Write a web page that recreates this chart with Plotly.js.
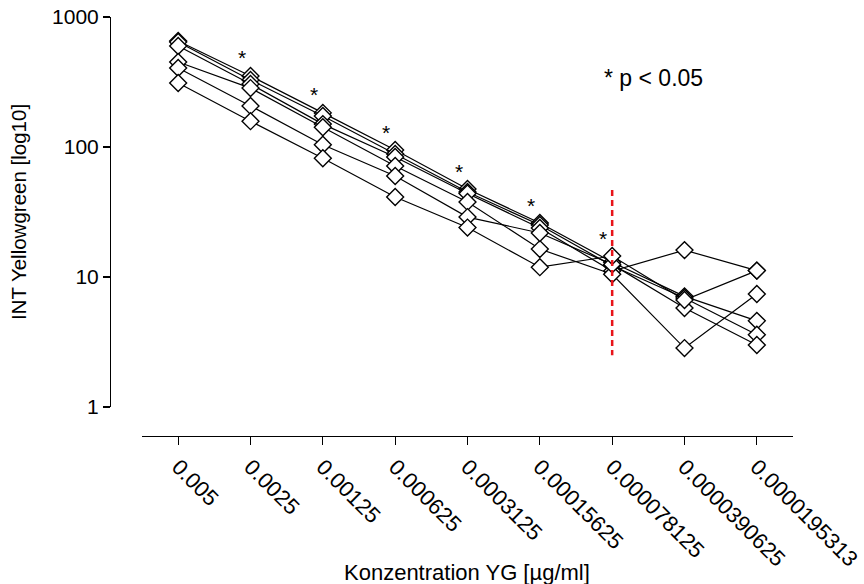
<!DOCTYPE html>
<html>
<head>
<meta charset="utf-8">
<script src="https://cdn.plot.ly/plotly-3.0.1.min.js"></script>
<style>html,body{margin:0;padding:0;background:#fff;}#chart{width:864px;height:584px;}</style>
</head>
<body>
<div id="chart"></div>
<script>
const concentrations = ["0.005","0.0025","0.00125","0.000625","0.0003125","0.00015625","0.000078125","0.0000390625","0.0000195313"];
const series1 = [653, 352, 183, 94.8, 47.5, 26.0, 13.0, 7.1, 4.6];
const series2 = [642, 328, 173, 88.3, 45.1, 25.1, 12.2, 6.9, 3.6];
const series3 = [598, 305, 150, 83.8, 43.9, 23.8, 11.1, 16.1, 11.2];
const series4 = [451, 284, 142, 71.4, 37.8, 16.4, 10.5, 2.84, 7.4];
const series5 = [405, 207, 104, 59.8, 28.9, 21.8, 12.5, 5.77, 3.0];
const series6 = [311, 158, 82, 41.2, 24.0, 11.9, 14.5, 6.65, 11.2];
const significant = ["0.0025","0.00125","0.000625","0.0003125","0.00015625","0.000078125"];
const cutoffConcentration = "0.000078125";
const cutoffRange = [46.7, 2.5];

const FONT = 'Liberation Sans, Arial, sans-serif';
const allSeries = [series1, series2, series3, series4, series5, series6];
const traces = allSeries.map((s, i) => ({
  x: concentrations, y: s, type: 'scatter', mode: 'lines+markers',
  name: 'Probe ' + (i + 1),
  line: {color: '#000', width: 1.2},
  marker: {symbol: 'diamond', size: 13, color: '#fff', line: {color: '#000', width: 1.4}},
  hoverinfo: 'x+y', showlegend: false
}));
traces.push({
  x: [cutoffConcentration, cutoffConcentration], y: cutoffRange, type: 'scatter', mode: 'lines',
  line: {color: '#e8141a', width: 2.5, dash: '6px,4px'}, showlegend: false, hoverinfo: 'skip'
});

const annotations = significant.map(c => {
  const idx = concentrations.indexOf(c);
  const colMax = Math.max(...allSeries.map(s => s[idx]));
  return {
    x: idx, y: Math.log10(colMax * 1.45), xref: 'x', yref: 'y', text: '*', showarrow: false,
    xshift: -9, yshift: -3, font: {family: FONT, size: 21, color: '#000'}
  };
});
annotations.push({
  x: (653-110)/683, y: 1 - (78-17)/419, xref: 'paper', yref: 'paper', text: '* p < 0.05', showarrow: false,
  xanchor: 'center', yanchor: 'middle', font: {family: FONT, size: 23, color: '#000'}
});
annotations.push({
  x: (467-110)/683, y: -(572-436)/419, xref: 'paper', yref: 'paper', text: 'Konzentration YG [µg/ml]', showarrow: false,
  xanchor: 'center', yanchor: 'middle', font: {family: FONT, size: 22, color: '#000'}
});

const layout = {
  width: 864, height: 584,
  margin: {l: 110, r: 71, t: 17, b: 148, pad: 0},
  paper_bgcolor: '#fff', plot_bgcolor: '#fff',
  font: {family: FONT, size: 20, color: '#000'},
  showlegend: false,
  xaxis: {
    type: 'category', categoryorder: 'array', categoryarray: concentrations,
    range: [-0.5, 8.5], domain: [32/683, 1], anchor: 'free', position: 0,
    showline: true, linecolor: '#000', linewidth: 1.3, ticks: 'outside', ticklen: 8, tickwidth: 1.3, tickcolor: '#000',
    tickangle: 45, tickfont: {size: 22}, showgrid: false, zeroline: false, automargin: false
  },
  yaxis: {
    type: 'log', range: [0, 3], domain: [29/419, 1], anchor: 'free', position: 0,
    showline: true, linecolor: '#000', linewidth: 1.3, ticks: 'outside', ticklen: 7, tickwidth: 1.3, tickcolor: '#000',
    tickvals: [1, 10, 100, 1000], ticktext: ['1', '10', '100', '1000'], tickfont: {size: 21},
    showgrid: false, zeroline: false, automargin: 'left',
    title: {text: 'INT Yellowgreen [log10]', font: {size: 20.5}, standoff: 18}
  },
  annotations: annotations
};
Plotly.newPlot('chart', traces, layout, {displayModeBar: false, staticPlot: true});
</script>
</body>
</html>
